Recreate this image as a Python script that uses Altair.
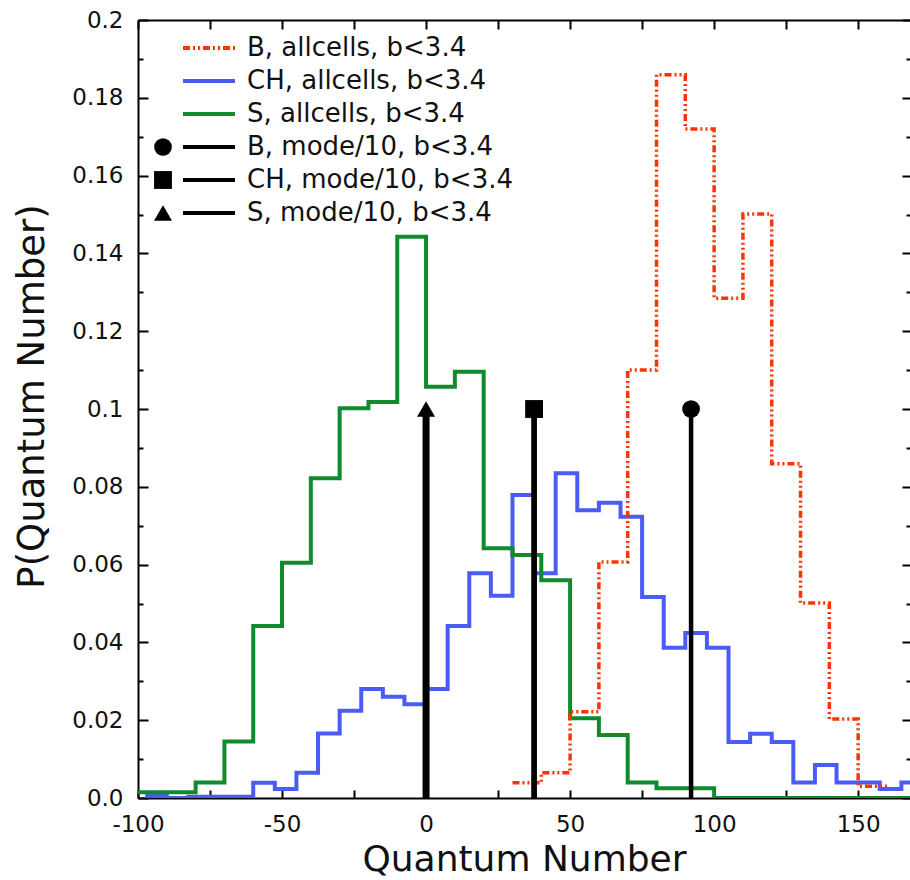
import altair as alt
import pandas as pd

# ---------------- data ----------------
labels = ["B, allcells, b<3.4", "CH, allcells, b<3.4", "S, allcells, b<3.4",
          "B, mode/10, b<3.4", "CH, mode/10, b<3.4", "S, mode/10, b<3.4"]

# B histogram (bin width 10, first bin starts at 30)
b_start, b_width = 30, 10
b_vals = [0.0039, 0.0065, 0.0222, 0.0607, 0.110, 0.1859, 0.172, 0.1285,
          0.1501, 0.0859, 0.0501, 0.0203, 0.003]

# CH histogram (bin width 7.5, first bin starts at -97.5)
ch_start, ch_width = -97.5, 7.5
ch_vals = [0.0005, 0.0, 0.0003, 0.0003, 0.0003, 0.0039, 0.0023, 0.0065,
           0.0166, 0.0224, 0.028, 0.026, 0.0241, 0.028, 0.0442, 0.0578,
           0.052, 0.0779, 0.0578, 0.0835, 0.074, 0.0759, 0.0723, 0.0517,
           0.0386, 0.0424, 0.0386, 0.0144, 0.0165, 0.0144, 0.004, 0.0085,
           0.004, 0.004, 0.0023, 0.004]

# S histogram (bin width 10, first bin starts at -100)
s_start, s_width = -100, 10
s_vals = [0.0015, 0.0015, 0.004, 0.0145, 0.0442, 0.0605, 0.0822, 0.1002,
          0.1018, 0.1443, 0.1057, 0.1096, 0.0642, 0.0625, 0.056, 0.0205,
          0.0162, 0.004, 0.0025, 0.0025, 0.0, 0.0, 0.0, 0.0, 0.0, 0.0, 0.0]

# modes / 10
mode_labels = labels[3:]
mode_x = [92, 37.5, 0]
mode_height = [0.1, 0.1, 0.1]

# axis values
x_label_values = [-100, -50, 0, 50, 100, 150]
x_tick_values = [-100, -75, -50, -25, 0, 25, 50, 75, 100, 125, 150]
y_label_values = [0.0, 0.02, 0.04, 0.06, 0.08, 0.1, 0.12, 0.14, 0.16, 0.18, 0.2]
y_minor_values = [0.01, 0.03, 0.05, 0.07, 0.09, 0.11, 0.13, 0.15, 0.17, 0.19]

# ---------------- styling ----------------
W, H = 772, 778
FONT = "DejaVu Sans"
TXT = "#111111"
colors = ["#FF3300", "#4B5CF6", "#118A2E", "black", "black", "black"]
B_DASH = [7, 3, 2, 3, 2, 3]
SOLID = [1, 0]


def steps(label, start, width, vals):
    xs = [start + i * width for i in range(len(vals) + 1)]
    ps = list(vals) + [vals[-1]]
    return pd.DataFrame({"label": label, "x": xs, "p": ps})


df_b = steps(labels[0], b_start, b_width, b_vals)
df_ch = steps(labels[1], ch_start, ch_width, ch_vals)
df_s = steps(labels[2], s_start, s_width, s_vals)
df_modes = pd.DataFrame({"label": mode_labels, "x": mode_x, "height": mode_height})
df_leg = pd.DataFrame({"label": labels})

xscale = alt.Scale(domain=[-100, 168], nice=False, zero=False)
yscale = alt.Scale(domain=[0, 0.2], nice=False, zero=False)
cscale = alt.Scale(domain=labels, range=colors)

tick_common = dict(labels=False, title=None, grid=False, tickColor="black",
                   tickWidth=2, ticks=True)

ax_bottom_labels = alt.Axis(
    orient="bottom", values=x_label_values, ticks=False, tickSize=0,
    domain=True, domainColor="black", domainWidth=2, grid=False,
    labelFont=FONT, labelFontSize=23, labelColor=TXT, labelPadding=15,
    labelFlush=False, labelOverlap=False, labelExpr="'' + datum.value",
    title="Quantum Number", titleFont=FONT, titleFontSize=36,
    titleFontWeight="normal", titleColor=TXT, titleBaseline="alphabetic",
    titleY=72)
ax_bottom_ticks = alt.Axis(orient="top", offset=-H, values=x_tick_values,
                           domain=False, tickSize=8, **tick_common)
ax_top_ticks = alt.Axis(orient="bottom", offset=-H, values=x_tick_values,
                        domain=True, domainColor="black", domainWidth=2,
                        tickSize=9, **tick_common)

ax_left_labels = alt.Axis(
    orient="left", values=y_label_values, ticks=False, tickSize=0,
    domain=True, domainColor="black", domainWidth=2, grid=False,
    labelFont=FONT, labelFontSize=23, labelColor=TXT, labelPadding=15,
    labelOverlap=False, labelFlush=False,
    labelExpr="datum.value == 0 ? '0.0' : format(datum.value, '.2~f')",
    title="P(Quantum Number)", titleFont=FONT, titleFontSize=37,
    titleFontWeight="normal", titleColor=TXT, titleAngle=270,
    titleBaseline="middle", titleAlign="center", titleX=-106, titleY=376)
ax_left_major = alt.Axis(orient="right", offset=-W, values=y_label_values,
                         domain=False, tickSize=10, **tick_common)
ax_left_minor = alt.Axis(orient="right", offset=-W, values=y_minor_values,
                         domain=False, tickSize=5, **tick_common)
ax_right_major = alt.Axis(orient="left", offset=-W, values=y_label_values,
                          domain=False, tickSize=8, **tick_common)
ax_right_minor = alt.Axis(orient="left", offset=-W, values=y_minor_values,
                          domain=False, tickSize=4, **tick_common)

color_enc = alt.Color("label:N", scale=cscale, legend=None)
shape_enc = alt.Shape("label:N", scale=alt.Scale(
    domain=mode_labels, range=["circle", "square", "triangle-up"]), legend=None)
size_enc = alt.Size("label:N", scale=alt.Scale(
    domain=mode_labels, range=[314, 324, 400]), legend=None)

ch_line = alt.Chart(df_ch).mark_line(
    interpolate="step-after", strokeWidth=4, clip=True).encode(
    x=alt.X("x:Q", scale=xscale, axis=ax_bottom_labels),
    y=alt.Y("p:Q", scale=yscale, axis=ax_left_labels),
    color=color_enc)

s_line = alt.Chart(df_s).mark_line(
    interpolate="step-after", strokeWidth=4, clip=True).encode(
    x=alt.X("x:Q", scale=xscale, axis=ax_bottom_ticks),
    y=alt.Y("p:Q", scale=yscale, axis=ax_left_major),
    color=color_enc)

b_line = alt.Chart(df_b).mark_line(
    interpolate="step-after", strokeWidth=3.5, clip=True,
    strokeDash=B_DASH).encode(
    x=alt.X("x:Q", scale=xscale, axis=ax_top_ticks),
    y=alt.Y("p:Q", scale=yscale, axis=ax_left_minor),
    color=color_enc)

rules = alt.Chart(df_modes).transform_calculate(base="0").mark_rule(
    color="black").encode(
    x=alt.X("x:Q", scale=xscale, axis=None),
    y=alt.Y("base:Q", scale=yscale, axis=ax_right_major),
    y2="height:Q",
    strokeWidth=alt.StrokeWidth("label:N", scale=alt.Scale(
        domain=mode_labels, range=[4.5, 7, 4.5]), legend=None))

markers = alt.Chart(df_modes).mark_point(
    filled=True, opacity=1, color="black").encode(
    x=alt.X("x:Q", scale=xscale, axis=None),
    y=alt.Y("height:Q", scale=yscale, axis=ax_right_minor),
    shape=shape_enc, size=size_enc)

# ---------------- legend (rows placed by a point scale over the labels) ----
leg_y = alt.Y("label:N", axis=None,
              scale=alt.Scale(type="point", domain=labels, range=[28, 193], padding=0))

leg_lines = alt.Chart(df_leg).mark_rule(strokeWidth=4).encode(
    x=alt.value(45), x2=alt.value(97), y=leg_y, color=color_enc,
    strokeDash=alt.StrokeDash("label:N", scale=alt.Scale(
        domain=labels, range=[B_DASH, SOLID, SOLID, SOLID, SOLID, SOLID]),
        legend=None))

leg_marks = alt.Chart(df_modes).mark_point(
    filled=True, opacity=1, color="black").encode(
    x=alt.value(25), y=leg_y, shape=shape_enc, size=size_enc)

leg_text = alt.Chart(df_leg).mark_text(
    align="left", baseline="middle", font=FONT, fontSize=26, color=TXT).encode(
    x=alt.value(109), y=leg_y, text="label:N")

chart = alt.layer(ch_line, s_line, b_line, rules, markers,
                  leg_lines, leg_marks, leg_text).resolve_axis(
    x="independent", y="independent").resolve_scale(
    y="independent").properties(
    width=W, height=H,
    autosize=alt.AutoSizeParams(type="none"),
    padding={"left": 138, "top": 20, "right": 0, "bottom": 82},
).configure_view(stroke=None).configure_axis(grid=False)

chart.save("out.html", embed_options={"renderer": "svg", "actions": False})
